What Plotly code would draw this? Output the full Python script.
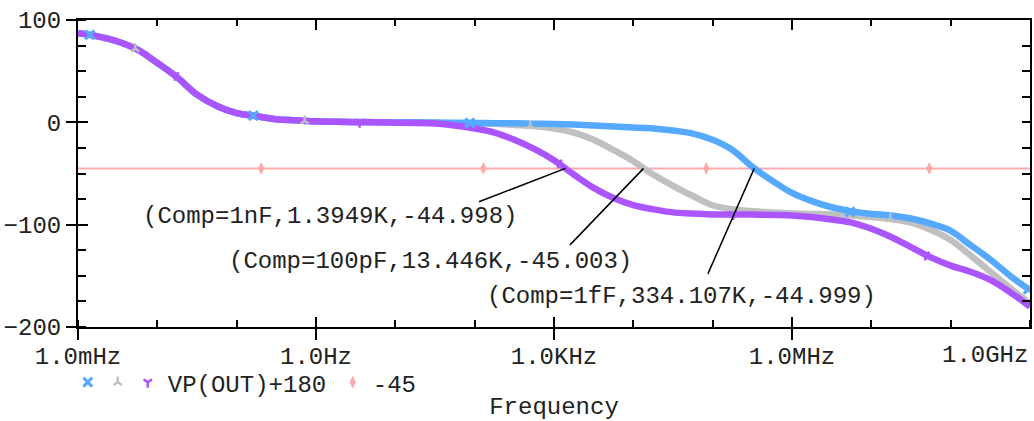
import math
import plotly.graph_objects as go

# ---------------- data ----------------
FREQ_HZ = [
    1.0e-3, 1.778e-3, 3.162e-3, 5.623e-3,
    1.0e-2, 1.778e-2, 3.162e-2, 5.623e-2,
    1.0e-1, 1.778e-1, 3.162e-1, 5.623e-1,
    1.0, 1.778, 3.162, 5.623,
    1.0e1, 1.778e1, 3.162e1, 5.623e1,
    1.0e2, 1.778e2, 3.162e2, 5.623e2,
    1.0e3, 1.778e3, 3.162e3, 5.623e3,
    1.0e4, 1.778e4, 3.162e4, 5.623e4,
    1.0e5, 1.778e5, 3.162e5, 5.623e5,
    1.0e6, 1.778e6, 3.162e6, 5.623e6,
    1.0e7, 1.778e7, 3.162e7, 5.623e7,
    1.0e8, 1.778e8, 3.162e8, 5.623e8,
    1.0e9,
]

PHASE_1NF = [
    87, 84, 79, 71, 58, 44, 27, 16, 9, 6, 3, 2, 1, 0.5, 0.2, 0,
    -0.3, -0.6, -1.2, -3, -6, -10, -17, -26, -37, -51, -64, -74,
    -81, -85, -88, -89, -90, -90, -90, -90.5, -91, -92.5, -95, -98,
    -104, -112, -122, -132, -140, -146, -154, -166, -180,
]
PHASE_100PF = [
    87, 84, 79, 71, 58, 44, 27, 16, 9, 6, 3, 2, 1, 0.5, 0.3, 0.2,
    0, -0.2, -0.5, -0.8, -1, -1.5, -2.5, -3.5, -6, -10, -17, -27,
    -38, -51, -62, -72, -81, -85, -87, -88, -89, -89.5, -90, -91,
    -92.5, -94.5, -98, -105, -115, -130, -146, -162, -177,
]
PHASE_1FF = [
    87, 84, 79, 71, 58, 44, 27, 16, 9, 6, 3, 2, 1, 0.5, 0.3, 0.2,
    0, 0, -0.2, -0.4, -0.6, -0.8, -1, -1.3, -1.6, -2.2, -3, -4,
    -5, -6, -8, -11, -17, -27, -43.5, -57, -69, -77, -83, -87,
    -89.5, -91, -94, -99, -106, -120, -134, -150, -164,
]

# marker positions along each curve
MK_1FF_F = [1.41e-3, 0.162, 87.0, 5.4e6, 9.5e8]
MK_1FF_V = [85.5, 6.5, -0.5, -87.5, -163]
MK_100PF_F = [5.25e-3, 0.72, 501.0, 1.74e7]
MK_100PF_V = [72, 1.3, -3.3, -94.4]
MK_1NF_F = [1.66e-2, 3.55, 1122.0, 1.82e5, 4.79e7]
MK_1NF_V = [46, 0.2, -39.5, -90, -129.5]

# -45 reference line and its markers
REF_LEVEL = -45
REF_LINE_F = [1e-3, 1e9]
REF_MK_F = [0.204, 128.8, 8.32e4, 5.37e7]

# cursor read-outs
CROSS_F = [1394.9, 13446.0, 334107.0]
CROSS_V = [-44.998, -45.003, -44.999]
CROSS_LABELS = [
    "(Comp=1nF,1.3949K,-44.998)",
    "(Comp=100pF,13.446K,-45.003)",
    "(Comp=1fF,334.107K,-44.999)",
]

X_MAJOR = [1e-3, 1.0, 1e3, 1e6, 1e9]
X_MAJOR_TEXT = ["1.0mHz", "1.0Hz", "1.0KHz", "1.0MHz", ""]
X_LAST_LABEL = "1.0GHz"
X_DECADES = [1e-3, 1e-2, 1e-1, 1.0, 1e1, 1e2, 1e3, 1e4, 1e5, 1e6, 1e7, 1e8, 1e9]
Y_MAJOR = [-200, -100, 0, 100]
Y_MINOR = [-200, -175, -150, -125, -100, -75, -50, -25, 0, 25, 50, 75, 100]

# ---------------- styling ----------------
BLUE = "rgb(85,170,255)"
GRAY = "rgb(192,192,192)"
PURPLE = "rgb(170,85,255)"
PINK = "rgb(255,170,170)"
FONT = "Liberation Mono, Courier New, monospace"
TXT = "#222222"
FS = 24

XR = [math.log10(X_DECADES[0]), math.log10(X_DECADES[-1])]
YR = [Y_MAJOR[0], Y_MAJOR[-1]]

fig = go.Figure()

# reference line -45
fig.add_trace(go.Scatter(x=REF_LINE_F, y=[REF_LEVEL] * len(REF_LINE_F), mode="lines",
                         line=dict(color=PINK, width=2), showlegend=False, hoverinfo="skip"))

# curves
for f, v, c in [(FREQ_HZ, PHASE_100PF, GRAY), (FREQ_HZ, PHASE_1FF, BLUE), (FREQ_HZ, PHASE_1NF, PURPLE)]:
    fig.add_trace(go.Scatter(x=f, y=v, mode="lines", line=dict(color=c, width=6.5, shape="spline"),
                             showlegend=False))

# markers (these carry the legend)
fig.add_trace(go.Scatter(x=MK_1FF_F, y=MK_1FF_V, mode="markers", name="",
                         marker=dict(symbol="x-thin-open", size=9, color=BLUE,
                                     line=dict(color=BLUE, width=3))))
fig.add_trace(go.Scatter(x=MK_100PF_F, y=MK_100PF_V, mode="markers", name="",
                         marker=dict(symbol="y-up-open", size=7, color=GRAY,
                                     line=dict(color=GRAY, width=2.5))))
fig.add_trace(go.Scatter(x=MK_1NF_F, y=MK_1NF_V, mode="markers", name="VP(OUT)+180",
                         legendwidth=175,
                         marker=dict(symbol="y-down-open", size=7, color=PURPLE,
                                     line=dict(color=PURPLE, width=2.5))))
fig.add_trace(go.Scatter(x=REF_MK_F, y=[REF_LEVEL] * len(REF_MK_F), mode="markers", name="-45",
                         marker=dict(symbol="diamond-tall", size=9, color=PINK)))

# helper traces so the extra tick axes are drawn
fig.add_trace(go.Scatter(x=[], y=[], xaxis="x2", yaxis="y", showlegend=False, hoverinfo="skip"))
fig.add_trace(go.Scatter(x=[], y=[], xaxis="x3", yaxis="y", showlegend=False, hoverinfo="skip"))
fig.add_trace(go.Scatter(x=[], y=[], xaxis="x", yaxis="y2", showlegend=False, hoverinfo="skip"))
fig.add_trace(go.Scatter(x=[], y=[], xaxis="x", yaxis="y3", showlegend=False, hoverinfo="skip"))

# cursor annotations: leader lines + text
ann = []
tails = [(-88, 34), (-75, 78), (-47, 107)]
for f, v, (ax, ay) in zip(CROSS_F, CROSS_V, tails):
    ann.append(dict(x=math.log10(f), y=v, xref="x", yref="y", text="", showarrow=True,
                    arrowhead=0, arrowwidth=1.5, arrowcolor="black", ax=ax, ay=ay,
                    standoff=0, startstandoff=0))
text_pos = [(0.0665, 0.3593), (0.1566, 0.2127), (0.4277, 0.0987)]
for lab, (px, py) in zip(CROSS_LABELS, text_pos):
    ann.append(dict(x=px, y=py, xref="paper", yref="paper", text=lab, showarrow=False,
                    xanchor="left", yanchor="middle", font=dict(family=FONT, size=FS, color=TXT)))
# last x tick label kept inside the frame
ann.append(dict(x=XR[1], y=-0.093, xref="x", yref="paper", text=X_LAST_LABEL, showarrow=False,
                xanchor="right", yanchor="middle", font=dict(family=FONT, size=FS, color=TXT)))

axis_common = dict(showgrid=False, zeroline=False, tickcolor="black", tickwidth=2)

fig.update_layout(
    width=1034, height=421,
    margin=dict(l=78, r=4, t=20, b=94, autoexpand=False),
    paper_bgcolor="white", plot_bgcolor="white",
    font=dict(family=FONT, size=FS, color=TXT),
    showlegend=True,
    legend=dict(orientation="h", x=0.005, xanchor="left", y=-0.181, yanchor="middle",
                indentation=-15,
                font=dict(family=FONT, size=FS, color=TXT), bgcolor="rgba(0,0,0,0)",
                itemclick=False, itemdoubleclick=False),
    annotations=ann,
    xaxis=dict(type="log", range=XR, autorange=False, showline=True, linecolor="black", linewidth=2,
               ticks="outside", ticklen=11, tickvals=X_MAJOR, ticktext=X_MAJOR_TEXT,
               ticklabelstandoff=-5,
               minor=dict(ticks="inside", ticklen=7, tickwidth=2, tickcolor="black",
                          tickvals=X_DECADES),
               title=dict(text="Frequency", standoff=43, font=dict(family=FONT, size=FS, color=TXT)),
               **axis_common),
    xaxis2=dict(type="log", range=XR, autorange=False, overlaying="x", anchor="y", side="bottom",
                ticks="inside", ticklen=10, tickvals=X_MAJOR, showticklabels=False, showline=False,
                **axis_common),
    xaxis3=dict(type="log", range=XR, autorange=False, overlaying="x", anchor="y", side="top",
                ticks="inside", ticklen=10, tickvals=X_MAJOR, showticklabels=False, showline=True,
                linecolor="black", linewidth=2,
                minor=dict(ticks="inside", ticklen=6, tickwidth=2, tickcolor="black",
                           tickvals=X_DECADES),
                **axis_common),
    yaxis=dict(range=YR, autorange=False, showline=True, linecolor="black", linewidth=2,
               ticks="outside", ticklen=10, tickvals=Y_MAJOR, ticklabelstandoff=0,
               minor=dict(ticks="inside", ticklen=8, tickwidth=2, tickcolor="black",
                          tickvals=Y_MINOR),
               **axis_common),
    yaxis2=dict(range=YR, autorange=False, overlaying="y", anchor="x", side="left",
                ticks="inside", ticklen=10, tickvals=Y_MAJOR, showticklabels=False, showline=False,
                **axis_common),
    yaxis3=dict(range=YR, autorange=False, overlaying="y", anchor="x", side="right",
                ticks="inside", ticklen=8, tickvals=Y_MINOR, showticklabels=False, showline=True,
                linecolor="black", linewidth=2, **axis_common),
)

fig.write_html("out.html", config={"displayModeBar": False},
               post_script="document.body.style.margin='0';")
